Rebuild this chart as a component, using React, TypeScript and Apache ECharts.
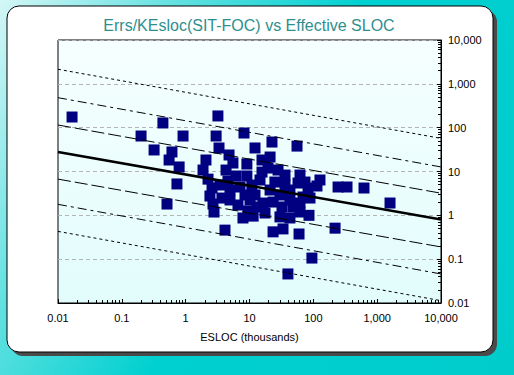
import React, { useEffect, useRef } from 'react';
import * as echarts from 'echarts';

const chartTitle = 'Errs/KEsloc(SIT-FOC) vs Effective SLOC';
const xAxisName = 'ESLOC (thousands)';
const xTickLabels = ['0.01', '0.1', '1', '10', '100', '1,000', '10,000'];
const yTickLabels = ['0.01', '0.1', '1', '10', '100', '1,000', '10,000'];

// ESLOC (thousands) of each project
const eslocThousands = [
  0.0166, 0.44, 3.2, 0.2, 0.91, 3.0, 8.2, 22.5, 55.5, 0.32,
  0.61, 3.33, 4.78, 12.2, 21, 0.55, 0.79, 2.08, 9.1, 0.73,
  0.51, 1.87, 2.24, 2.59, 2.4, 2.68, 2.78, 4.13, 4.95, 7.1,
  9.1, 6.15, 4.29, 4.6, 3.45, 7.9, 9.5, 13.1, 12.2, 10.9,
  15.7, 19.5, 28, 36, 14.6, 61.8, 57.5, 82.6, 127, 114,
  69, 61.8, 48, 32.3, 23.4, 16.3, 30, 11.4, 85.5, 23.4,
  33.5, 59.7, 219, 95, 40, 244, 337, 622, 1590, 21,
  30, 43, 17.5, 43, 61.8, 4.95, 6.6, 3.7, 10.2, 36,
  25, 88.7, 5.5, 8.5, 43, 74, 15.7,
];
// Errors per KESLOC of each project
const errsPerKesloc = [
  175, 128, 185, 64.5, 64.5, 64.5, 75.5, 47, 38, 31,
  27.9, 34.4, 23.8, 34.4, 21.4, 18.3, 12.7, 18.3, 14.8, 5.2,
  1.81, 10.8, 6.7, 4.2, 2.76, 1.81, 1.19, 0.46, 3.78, 4.43,
  7.9, 7.9, 10.8, 6.07, 4.92, 0.87, 1.26, 1.55, 2.91, 4.92,
  9.7, 12.0, 10.8, 8.3, 6.4, 8.3, 5.46, 4.2, 6.4, 4.67,
  2.62, 1.91, 1.55, 1.55, 2.01, 1.91, 0.92, 0.96, 1.0, 0.42,
  0.49, 0.375, 0.51, 0.106, 0.046, 4.43, 4.43, 4.2, 1.91, 3.78,
  2.91, 3.78, 1.13, 0.87, 1.19, 2.24, 1.72, 2.48, 2.24, 4.92,
  5.75, 2.48, 15.6, 2.91, 2.24, 5.75, 18.3,
];

// trend line and bands: values at the two ends of the x range
const lineEndsX = [0.01, 10000];
const fitLine = [28, 0.8];
const plus1Sigma = [115, 3.2];
const minus1Sigma = [6.7, 0.19];
const plus2Sigma = [483, 12.7];
const minus2Sigma = [1.78, 0.046];
const plus3Sigma = [2150, 57];
const minus3Sigma = [0.43, 0.0113];

const FONT = '"Liberation Sans", Arial, sans-serif';

function lineSeries(vals: number[], dash: any, width: number) {
  return {
    type: 'line',
    data: lineEndsX.map((x, i) => [x, vals[i]]),
    symbol: 'none',
    silent: true,
    z: 5,
    lineStyle: { color: '#000', width, type: dash },
  };
}

export default function App() {
  const ref = useRef<HTMLDivElement>(null);
  useEffect(() => {
    if (!ref.current) return;
    const chart = echarts.init(ref.current, null, { renderer: 'svg' });
    const points = eslocThousands.map((x, i) => [x, errsPerKesloc[i]]);
    chart.setOption({
      animation: false,
      graphic: [
        { type: 'rect', z: -20, shape: { x: 11, y: 10, width: 486, height: 346, r: 12 }, style: { fill: '#4a4a4a' } },
        { type: 'rect', z: -19, shape: { x: 7, y: 6, width: 486, height: 346, r: 12 }, style: { fill: '#ffffff', stroke: '#000', lineWidth: 1 } },
        {
          type: 'text', z: 10, x: 249, y: 25,
          style: { text: chartTitle, fill: '#2f8f8f', font: `16px ${FONT}`, textAlign: 'center', textVerticalAlign: 'middle' },
        },
      ],
      grid: {
        left: 58, top: 40, width: 383, height: 263,
        show: true, borderColor: '#000', borderWidth: 1,
        backgroundColor: new echarts.graphic.LinearGradient(0, 0, 0, 1, [
          { offset: 0, color: '#f6ffff' },
          { offset: 1, color: '#e2fcfc' },
        ]),
      },
      xAxis: {
        type: 'log', logBase: 10, min: 0.01, max: 10000,
        axisLine: { show: true, lineStyle: { color: '#000', width: 1 } },
        axisTick: { show: true, inside: true, length: 4, lineStyle: { color: '#000' } },
        minorTick: { show: true, splitNumber: 9, length: 3, lineStyle: { color: '#000' } },
        axisLabel: { formatter: (_v: number, i: number) => xTickLabels[i], color: '#000', fontSize: 11, fontFamily: FONT, margin: 9 },
        splitLine: { show: false },
        name: xAxisName, nameLocation: 'middle', nameGap: 28,
        nameTextStyle: { color: '#000', fontSize: 11, fontFamily: FONT },
      },
      yAxis: {
        type: 'log', logBase: 10, min: 0.01, max: 10000, position: 'right',
        axisLine: { show: true, lineStyle: { color: '#000', width: 1 } },
        axisTick: { show: true, inside: true, length: 4, lineStyle: { color: '#000' } },
        minorTick: { show: true, splitNumber: 9, length: 3, lineStyle: { color: '#000' } },
        axisLabel: { formatter: (_v: number, i: number) => yTickLabels[i], color: '#000', fontSize: 11, fontFamily: FONT, margin: 7 },
        splitLine: { show: true, lineStyle: { color: '#b4b4b4', width: 1, type: [4, 3] } },
      },
      series: [
        {
          type: 'scatter', data: points, symbol: 'rect', symbolSize: 11, z: 3,
          itemStyle: { color: '#000080', opacity: 1 },
        },
        lineSeries(plus3Sigma, [3, 3], 1),
        lineSeries(plus2Sigma, [9, 4, 3, 4], 1),
        lineSeries(plus1Sigma, [13, 4], 1),
        lineSeries(fitLine, 'solid', 2.5),
        lineSeries(minus1Sigma, [13, 4], 1),
        lineSeries(minus2Sigma, [9, 4, 3, 4], 1),
        lineSeries(minus3Sigma, [3, 3], 1),
      ],
    });
    return () => chart.dispose();
  }, []);
  return (
    <div style={{ position: 'fixed', left: 0, top: 0, width: 514, height: 375, background: 'linear-gradient(120deg, #d4f6f6 0%, #5fe0e0 25%, #00d0d0 50%, #00cccc 100%)' }}>
      <div ref={ref} style={{ width: 514, height: 375 }} />
    </div>
  );
}
